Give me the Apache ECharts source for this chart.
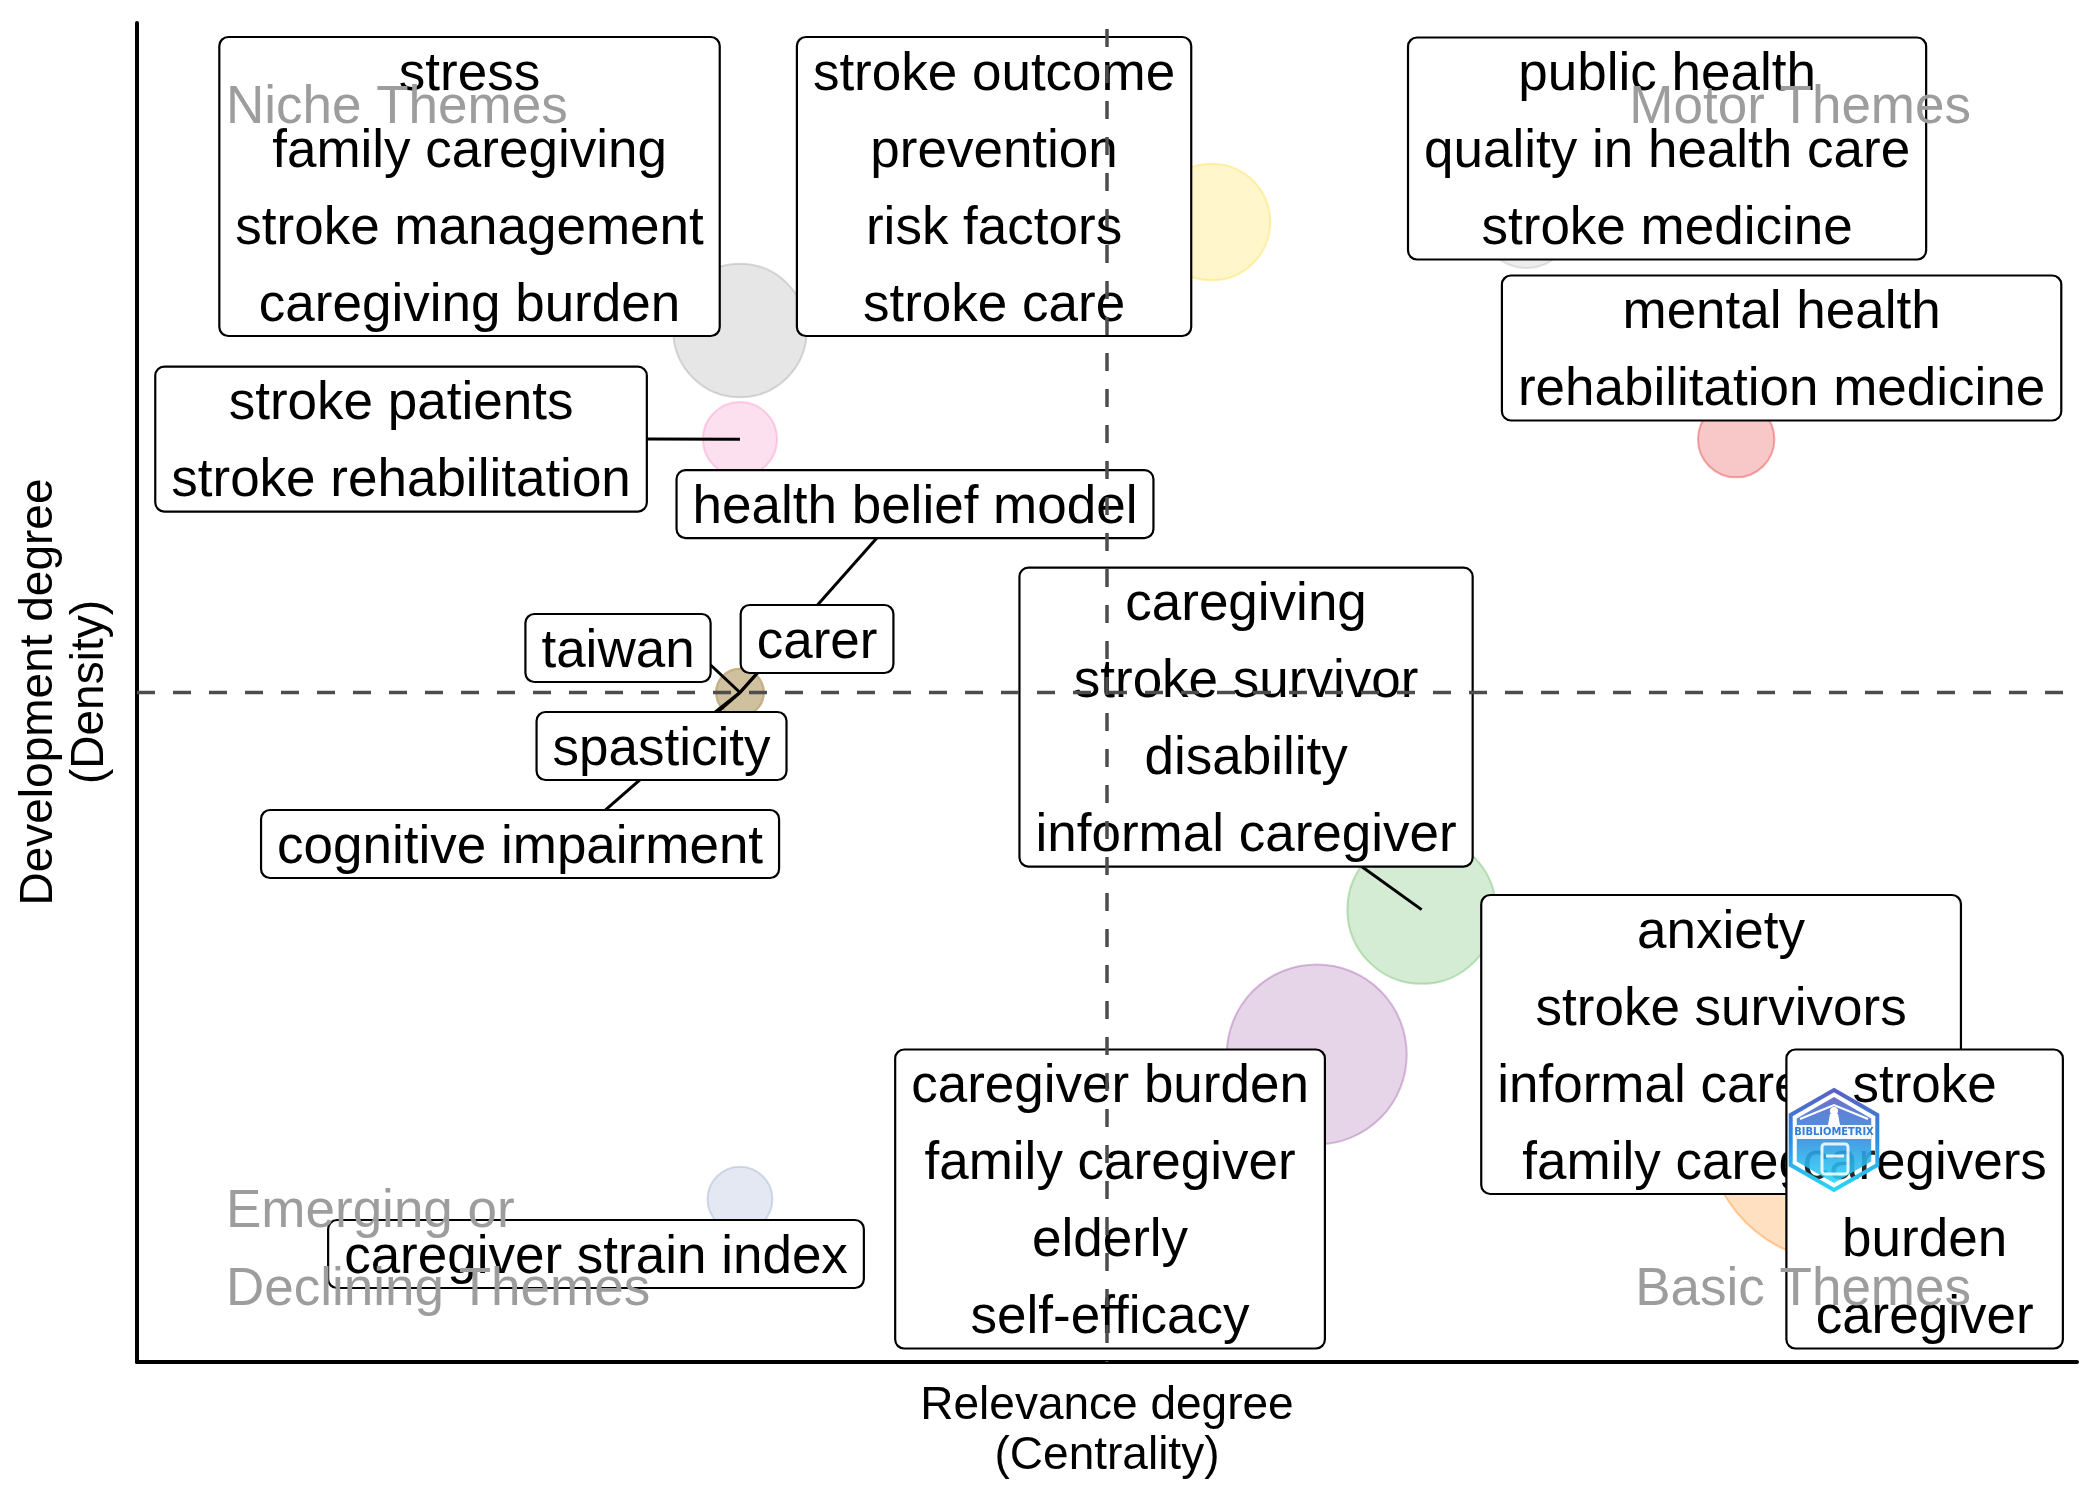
<!DOCTYPE html>
<html><head><meta charset="utf-8">
<script src="https://cdn.jsdelivr.net/npm/echarts@6/dist/echarts.min.js"></script>
<style>html,body{margin:0;padding:0;background:#fff}#c{width:2100px;height:1500px}</style>
</head><body><div id="c"></div>
<script>
// ---------------- DATA ----------------
const clusterLabels = [
  "stress\nfamily caregiving\nstroke management\ncaregiving burden",
  "stroke outcome\nprevention\nrisk factors\nstroke care",
  "public health\nquality in health care\nstroke medicine",
  "mental health\nrehabilitation medicine",
  "stroke patients\nstroke rehabilitation",
  "health belief model",
  "taiwan",
  "carer",
  "spasticity",
  "cognitive impairment",
  "caregiving\nstroke survivor\ndisability\ninformal caregiver",
  "caregiver burden\nfamily caregiver\nelderly\nself-efficacy",
  "caregiver strain index",
  "anxiety\nstroke survivors\ninformal caregivers\nfamily caregivers",
  "stroke\ncaregivers\nburden\ncaregiver"
];
const centralityRank = [4.5, 9, 12, 14, 4.5, 4.5, 4.5, 4.5, 4.5, 4.5, 11, 10, 4.5, 13, 15];
const densityRank    = [13, 14.5, 14.5, 11.5, 11.5, 8, 8, 8, 8, 8, 5, 3, 1, 4, 2];
const clusterFreq    = [55, 42, 26, 18, 17, 7, 7, 7, 7, 7, 68, 100, 13, 20, 225];
const quadrantNames  = ["Niche Themes", "Motor Themes", "Emerging or\nDeclining Themes", "Basic Themes"];
const xTitle = "Relevance degree\n(Centrality)";
const yTitle = "Development degree\n(Density)";

// ---------------- STYLE / LAYOUT ----------------
const clusterColors = ['#999999','#FFD92F','#B3B3B3','#E41A1C','#F781BF',
  '#C3AD7E','#C3AD7E','#C3AD7E','#C3AD7E','#C3AD7E',
  '#4DAF4A','#984EA3','#8DA0CB','#E78AC3','#FF7F00'];
// label box centre (in axis units) and segment attach point (fraction of half box size)
const labelLayout = [
  {at:[1.921,14.991], seg:null},
  {at:[6.923,14.991], seg:null},
  {at:[13.341,15.516], seg:null},
  {at:[14.433,12.760], seg:null},
  {at:[1.268,11.502], seg:[1,0]},
  {at:[6.169,10.604], seg:[-0.16,1]},
  {at:[3.337,8.615], seg:[1,0.5]},
  {at:[5.235,8.739], seg:[-0.78,1]},
  {at:[3.752,7.261], seg:[0.43,-1]},
  {at:[2.403,5.907], seg:[0.33,-1]},
  {at:[9.326,7.661], seg:[0.51,1]},
  {at:[8.029,1.002], seg:null},
  {at:[3.127,0.242], seg:null},
  {at:[13.856,3.137], seg:null},
  {at:[15.797,1.002], seg:null}
];
const FONT = 'Liberation Sans';
const LABEL_FS = 53, LABEL_LH = 77, LABEL_BASE_H = 68, LABEL_PAD_X = 16, TEXT_DY = 4;
const AX_MIN = -1.25, AX_MAX = 17.25;

function hexA(h, a){
  const n = parseInt(h.slice(1),16);
  return 'rgba(' + (n>>16&255) + ',' + (n>>8&255) + ',' + (n&255) + ',' + a + ')';
}
const mctx = document.createElement('canvas').getContext('2d');
mctx.font = LABEL_FS + 'px "' + FONT + '"';
function boxSize(i){
  const lines = clusterLabels[i].split('\n');
  const w = Math.max.apply(null, lines.map(s => mctx.measureText(s).width)) + 2*LABEL_PAD_X;
  const h = LABEL_BASE_H + (lines.length-1)*LABEL_LH;
  return [w,h];
}
const mean = a => a.reduce((s,v)=>s+v,0)/a.length;
const meanX = mean(centralityRank), meanY = mean(densityRank);

const pts = centralityRank.map((x,i)=>[x, densityRank[i], clusterFreq[i]]);

const chart = echarts.init(document.getElementById('c'), null, {renderer:'canvas', width:2100, height:1500});

const grad = () => new echarts.graphic.LinearGradient(0,0,0,1,[{offset:0,color:'#5a5ec6'},{offset:0.5,color:'#2c8fe0'},{offset:1,color:'#28d8f8'}]);
function hex(r){ const p=[]; for(let k=0;k<6;k++){const a=-Math.PI/2+k*Math.PI/3; p.push([r*Math.cos(a), r*Math.sin(a)]);} return p; }

const LZ = 200;
const option = {
  backgroundColor:'#fff',
  animation:false,
  grid:{left:137, right:23, top:23, bottom:138, containLabel:false, outerBoundsMode:'none'},
  xAxis:{type:'value', min:AX_MIN, max:AX_MAX, axisLabel:{show:false}, axisTick:{show:false}, splitLine:{show:false},
    axisLine:{show:true, onZero:false, lineStyle:{color:'#000', width:4}}},
  yAxis:{type:'value', min:AX_MIN, max:AX_MAX, axisLabel:{show:false}, axisTick:{show:false}, splitLine:{show:false},
    axisLine:{show:true, onZero:false, lineStyle:{color:'#000', width:4}}},
  series:[
    { // bubbles
      type:'scatter', z:2, silent:true,
      data: pts.map((p,i)=>({value:p, itemStyle:{color:hexA(clusterColors[i],0.3), borderColor:hexA(clusterColors[i],0.45), borderWidth:2}})),
      symbolSize: v => 2*9*Math.sqrt(v[2])
    },
    { // repel segments
      type:'custom', z:3, silent:true, clip:false,
      data: pts,
      renderItem:(params, api)=>{
        const i = params.dataIndex, lay = labelLayout[i];
        if(!lay.seg) return null;
        const p = api.coord([api.value(0), api.value(1)]);
        const c = api.coord(lay.at);
        const [w,h] = boxSize(i);
        const e = [c[0]+lay.seg[0]*w/2, c[1]+lay.seg[1]*h/2];
        return {type:'line', shape:{x1:p[0], y1:p[1], x2:e[0], y2:e[1]}, style:{stroke:'#000', lineWidth:3}};
      }
    },
    { // labels
      type:'custom', z:4, silent:true, clip:false,
      data: pts,
      renderItem:(params, api)=>{
        const i = params.dataIndex, lay = labelLayout[i];
        const c = api.coord(lay.at);
        const [w,h] = boxSize(i);
        return {type:'group', children:[
          {type:'rect', shape:{x:c[0]-w/2, y:c[1]-h/2, width:w, height:h, r:9}, style:{fill:'#fff', stroke:'#000', lineWidth:2.2}},
          {type:'text', x:c[0], y:c[1]+TEXT_DY, style:{text:clusterLabels[i], fontSize:LABEL_FS, fontFamily:FONT, lineHeight:LABEL_LH, align:'center', verticalAlign:'middle', fill:'#000'}}
        ]};
      }
    },
    { // mean dashed lines
      type:'custom', z:5, silent:true, clip:false,
      data:[[meanX, meanY]],
      renderItem:(params, api)=>{
        const cs = params.coordSys;
        const m = api.coord([api.value(0), api.value(1)]);
        const st = {stroke:'#4d4d4d', lineWidth:3.5, lineDash:[18,18]};
        return {type:'group', children:[
          {type:'line', shape:{x1:m[0], y1:cs.y+6, x2:m[0], y2:cs.y+cs.height}, style:st},
          {type:'line', shape:{x1:cs.x, y1:m[1], x2:cs.x+cs.width, y2:m[1]}, style:st}
        ]};
      }
    },
    { // quadrant names
      type:'custom', z:6, silent:true, clip:false,
      data:[[meanX, meanY]],
      renderItem:(params, api)=>{
        const cs = params.coordSys;
        const base = {fontSize:53, fontFamily:FONT, fill:'#9d9d9d', verticalAlign:'middle', lineHeight:78};
        const L = cs.x+89, R = cs.x+cs.width-106, T = cs.y+85, B = cs.y+cs.height;
        return {type:'group', children:[
          {type:'text', x:L, y:T, style:Object.assign({text:quadrantNames[0], align:'left'}, base)},
          {type:'text', x:R, y:T, style:Object.assign({text:quadrantNames[1], align:'right'}, base)},
          {type:'text', x:L, y:B-111, style:Object.assign({text:quadrantNames[2], align:'left'}, base)},
          {type:'text', x:R, y:B-72, style:Object.assign({text:quadrantNames[3], align:'right'}, base)}
        ]};
      }
    }
  ],
  graphic:[
    {type:'text', x:1107, y:1431, z:10, style:{text:xTitle, fontSize:46, fontFamily:FONT, lineHeight:50, align:'center', verticalAlign:'middle', fill:'#000'}},
    {type:'text', x:65, y:692, rotation:Math.PI/2, z:10, style:{text:yTitle, fontSize:46, fontFamily:FONT, lineHeight:51, align:'center', verticalAlign:'middle', fill:'#000'}},
    {type:'group', x:1834, y:1140, z:LZ, silent:true, children:[
      {type:'polygon', z:LZ, shape:{points:hex(50)}, style:{fill:'rgba(255,255,255,0.15)', stroke:grad(), lineWidth:4}},
      {type:'polygon', z:LZ, shape:{points:hex(43)}, style:{fill:grad(), opacity:0.88}},
      {type:'rect', z:LZ, shape:{x:-37, y:-15, width:74, height:14}, style:{fill:'rgba(255,255,255,0.95)'}},
      {type:'text', z:LZ, style:{text:'BIBLIOMETRIX', x:0, y:-8, align:'center', verticalAlign:'middle', fontSize:11, fontWeight:'bold', fill:'#2f7fd8', fontFamily:'DejaVu Sans Condensed'}},
      {type:'polygon', z:LZ, shape:{points:[[-6,-15],[6,-15],[4,-26],[-4,-26]]}, style:{fill:'#fff'}},
      {type:'circle', z:LZ, shape:{cx:0, cy:-29, r:4}, style:{fill:'#fff'}},
      {type:'polyline', z:LZ, shape:{points:[[-34,-21],[0,-35],[34,-21]]}, style:{fill:'none', stroke:'#fff', lineWidth:2}},
      {type:'rect', z:LZ, shape:{x:-12, y:4, width:26, height:30, r:3}, style:{fill:'none', stroke:'rgba(255,255,255,0.85)', lineWidth:3}},
      {type:'line', z:LZ, shape:{x1:-8, y1:16, x2:10, y2:16}, style:{stroke:'rgba(255,255,255,0.85)', lineWidth:3}}
    ]}
  ]
};
chart.setOption(option);
</script>
</body></html>
